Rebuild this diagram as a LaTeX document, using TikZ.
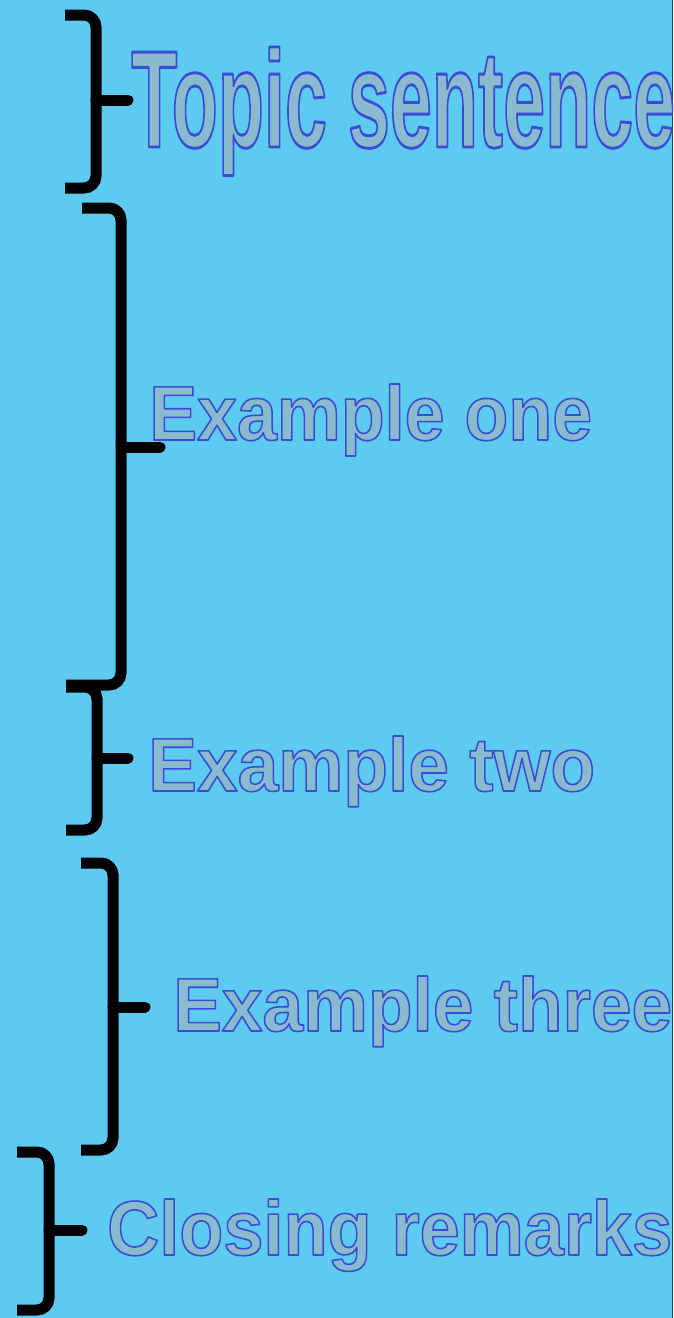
\documentclass[tikz,border=0pt]{standalone}
\usepackage{fontspec}
\usepackage{graphicx}
\setmainfont{Liberation Sans}
\usepackage{tikz}

\definecolor{sky}{HTML}{5DCAEF}
\definecolor{wordfill}{HTML}{89BBCE}
\definecolor{rimline}{HTML}{1E4A66}

% filled letters with a blue outline (text render mode 2)
\newcommand{\outlined}[1]{{\color{wordfill}\special{pdf:literal direct 0.235 0.290 0.840 RG 1.5 w 1 j 2 Tr}#1\special{pdf:literal direct 0 Tr}}}

\tikzset{
  brace/.style={line width=11pt, rounded corners=12pt},
  nub/.style={line width=11pt, line cap=round},
  headline/.style={inner sep=0pt, anchor=base west, font=\fontsize{72}{72}\selectfont\bfseries}
}

\begin{document}
\begin{tikzpicture}[x=1pt, y=-1pt]
    % Background
    \clip (0,0) rectangle (673,1318);
    \fill[sky] (0,0) rectangle (673,1318);
    \draw[rimline, line width=1.5pt] (672.3,0) -- (672.3,1318);

    % Draw braces
    \foreach \i/\vx/\ya/\ym/\yb/\lt/\lb/\tip in {1/96/15/100/188/65/65/128, 2/121/208/447/685/82/66/160, 3/97/687/758/830/66/66/128, 4/113/863/1007/1150/81/81/145, 5/49/1152/1230/1310/17/17/82} {
      \coordinate (b\i) at (\tip,\ym);
      \draw[brace] (\lt,\ya) -- (\vx,\ya) -- (\vx,\yb) -- (\lb,\yb);
      \draw[nub] (\vx,\ym) -- (b\i);
    }

    % Sentences
    \foreach \i/\x/\y/\w/\h/\txt in {1/131/147/544/100/Topic sentence, 2/149/440/443/56/Example one, 3/148/791/447/55/Example two, 4/173/1031/499/55/Example three, 5/107/1255/565/56/Closing remarks} {
      \node[headline] (t\i) at (\x,\y) {\resizebox{\w pt}{\h pt}{\outlined{\txt}}};
    }
\end{tikzpicture}
\end{document}
